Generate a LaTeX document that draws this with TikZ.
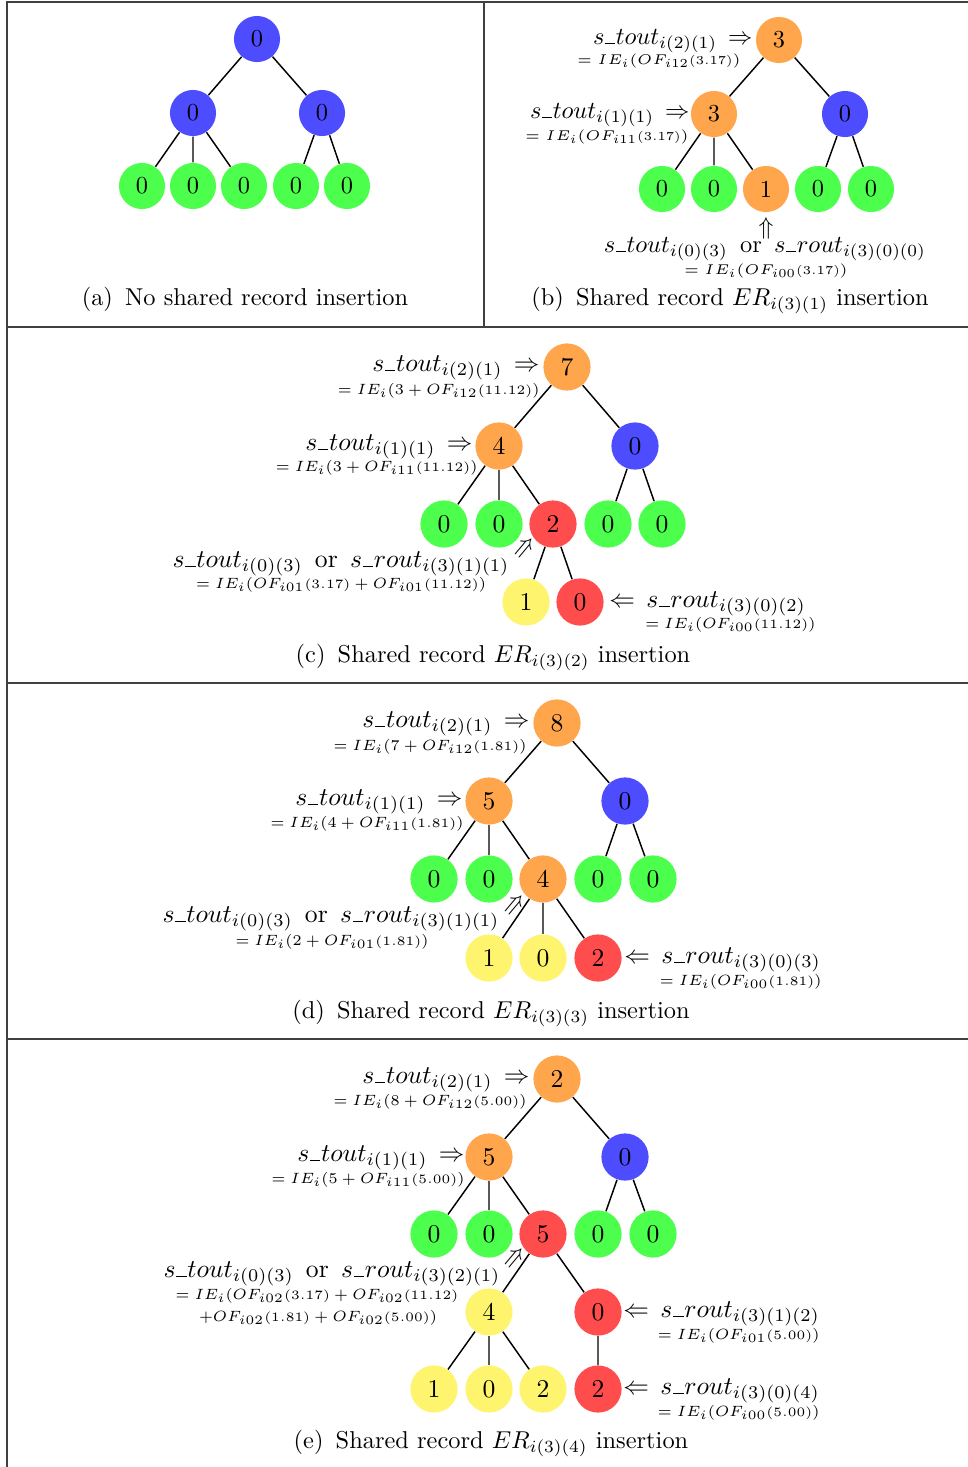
\RequirePackage{fix-cm}
\documentclass[tikz,border=0pt]{standalone}
\usetikzlibrary{calc}
\DeclareMathSizes{5.8}{5.8}{5}{5}
\DeclareMathSizes{6.1}{6.1}{5.25}{5.25}
\DeclareMathSizes{10.5}{10.5}{7.35}{5.25}
\definecolor{blueN}{RGB}{77,77,255}
\definecolor{greenN}{RGB}{77,255,77}
\definecolor{orangeN}{RGB}{255,166,77}
\definecolor{redN}{RGB}{255,77,77}
\definecolor{yellowN}{RGB}{255,244,110}
% baseline underscore used inside identifiers
\newcommand{\usc}{\kern.03em\vbox{\hrule width.4em}\kern.03em}
% reduced-size offset argument
\newcommand{\pv}[1]{{\scriptstyle(#1)}}
\newcommand{\orsep}{\hspace{5pt}or\hspace{5pt}}
\tikzset{
  x=0.41pt, y=-0.41pt,
  nd/.style={circle, minimum size=18.9pt, inner sep=0pt, font=\normalsize},
  bl/.style={nd, fill=blueN},
  gr/.style={nd, fill=greenN},
  og/.style={nd, fill=orangeN},
  rd/.style={nd, fill=redN},
  ye/.style={nd, fill=yellowN},
  edge/.style={line width=0.6pt},
  frame/.style={line width=0.5pt, black!75},
  lab/.style={inner sep=0pt, font=\normalsize},
  sm/.style={inner sep=0pt, font=\fontsize{5.8}{7}\selectfont},
  captxt/.style={inner sep=0pt, font=\normalsize, anchor=base},
  bigger/.style={
    nd/.append style={minimum size=19.35pt, font=\fontsize{10.5}{12}\selectfont},
    lab/.append style={font=\fontsize{10.5}{12}\selectfont},
    sm/.append style={font=\fontsize{6.1}{7}\selectfont}},
}
\begin{document}
\begin{tikzpicture}
\useasboundingbox (0,0) rectangle (968,1467);

% panel frames
\draw[frame] (7,1467) -- (7,2) -- (968,2);
\draw[frame] (484,2) -- (484,327);
\draw[frame] (7,327) -- (968,327);
\draw[frame] (7,683) -- (968,683);
\draw[frame] (7,1039) -- (968,1039);

% ---------------- (a) ----------------
\node[bl] (a0) at (257,39) {0};
\node[bl] (a1) at (193,113) {0};
\node[bl] (a2) at (322,113) {0};
\node[gr] (a11) at (142,186) {0};
\node[gr] (a12) at (193,186) {0};
\node[gr] (a13) at (244,186) {0};
\node[gr] (a21) at (296,186) {0};
\node[gr] (a22) at (347,186) {0};
\draw[edge] (a0)--(a1) (a0)--(a2) (a1)--(a11) (a1)--(a12) (a1)--(a13) (a2)--(a21) (a2)--(a22);
\node[captxt] (capa) at (245,305) {(a)\enspace No shared record insertion};

% ---------------- (b) ----------------
\node[og] (b0) at (779,40) {3};
\node[og] (b1) at (714,114) {3};
\node[bl] (b2) at (845,114) {0};
\node[gr] (b11) at (662,189) {0};
\node[gr] (b12) at (714,189) {0};
\node[og] (b13) at (766,189) {1};
\node[gr] (b21) at (818,189) {0};
\node[gr] (b22) at (871,189) {0};
\draw[edge] (b0)--(b1) (b0)--(b2) (b1)--(b11) (b1)--(b12) (b1)--(b13) (b2)--(b21) (b2)--(b22);
\node[lab, anchor=base east] (bl0) at (753,44) {$s\usc tout_{i(2)(1)}\,\Rightarrow$};
\node[sm, anchor=base east] (bs0) at (741,64) {$=IE_i(OF_{i12}\pv{3.17})$};
\node[lab, anchor=base east] (bl1) at (690,118) {$s\usc tout_{i(1)(1)}\,\Rightarrow$};
\node[sm, anchor=base east] (bs1) at (689,140) {$=IE_i(OF_{i11}\pv{3.17})$};
\node[lab] (bup) at (766,228) {$\Uparrow$};
\node[lab, anchor=base] (bl2) at (765,252) {$s\usc tout_{i(0)(3)}$\orsep$s\usc rout_{i(3)(0)(0)}$};
\node[sm, anchor=base] (bs2) at (766,274) {$=IE_i(OF_{i00}\pv{3.17})$};
\node[captxt] (capb) at (730,305) {(b)\enspace Shared record $ER_{i(3)(1)}$ insertion};

\begin{scope}[bigger]
% ---------------- (c) ----------------
\node[og] (c0) at (567,367) {7};
\node[og] (c1) at (499,446) {4};
\node[bl] (c2) at (635,446) {0};
\node[gr] (c11) at (444,524) {0};
\node[gr] (c12) at (499,524) {0};
\node[rd] (c13) at (553,524) {2};
\node[gr] (c21) at (608,524) {0};
\node[gr] (c22) at (662,524) {0};
\node[ye] (c131) at (526,602) {1};
\node[rd] (c132) at (580,602) {0};
\draw[edge] (c0)--(c1) (c0)--(c2) (c1)--(c11) (c1)--(c12) (c1)--(c13) (c2)--(c21) (c2)--(c22)
  (c13)--(c131) (c13)--(c132);
\node[lab, anchor=base east] (cl0) at (540,371) {$s\usc tout_{i(2)(1)}\,\Rightarrow$};
\node[sm, anchor=base east] (cs0) at (540,394) {$=IE_i(3+OF_{i12}\pv{11.12})$};
\node[lab, anchor=base east] (cl1) at (473,450) {$s\usc tout_{i(1)(1)}\,\Rightarrow$};
\node[sm, anchor=base east] (cs1) at (478,471) {$=IE_i(3+OF_{i11}\pv{11.12})$};
\node[lab, rotate=-40] (cup) at (525,548) {$\Uparrow$};
\node[lab, anchor=base] (cl2) at (341,567) {$s\usc tout_{i(0)(3)}$\orsep$s\usc rout_{i(3)(1)(1)}$};
\node[sm, anchor=base] (cs2) at (341,588) {$=IE_i(OF_{i01}\pv{3.17}+OF_{i01}\pv{11.12})$};
\node[lab, anchor=base west] (cl3) at (609,607) {$\Leftarrow\, s\usc rout_{i(3)(0)(2)}$};
\node[sm, anchor=base east] (cs3) at (816,628) {$=IE_i(OF_{i00}\pv{11.12})$};

% ---------------- (d) ----------------
\node[og] (d0) at (557,723) {8};
\node[og] (d1) at (489,801) {5};
\node[bl] (d2) at (625,801) {0};
\node[gr] (d11) at (434,879) {0};
\node[gr] (d12) at (489,879) {0};
\node[og] (d13) at (543,879) {4};
\node[gr] (d21) at (598,879) {0};
\node[gr] (d22) at (653,879) {0};
\node[ye] (d131) at (489,958) {1};
\node[ye] (d132) at (543,958) {0};
\node[rd] (d133) at (598,958) {2};
\draw[edge] (d0)--(d1) (d0)--(d2) (d1)--(d11) (d1)--(d12) (d1)--(d13) (d2)--(d21) (d2)--(d22)
  (d13)--(d131) (d13)--(d132) (d13)--(d133);
\node[lab, anchor=base east] (dl0) at (530,727) {$s\usc tout_{i(2)(1)}\,\Rightarrow$};
\node[sm, anchor=base east] (ds0) at (527,750) {$=IE_i(7+OF_{i12}\pv{1.81})$};
\node[lab, anchor=base east] (dl1) at (463,805) {$s\usc tout_{i(1)(1)}\,\Rightarrow$};
\node[sm, anchor=base east] (ds1) at (464,827) {$=IE_i(4+OF_{i11}\pv{1.81})$};
\node[lab, rotate=-40] (dup) at (515,905) {$\Uparrow$};
\node[lab, anchor=base] (dl2) at (331,922) {$s\usc tout_{i(0)(3)}$\orsep$s\usc rout_{i(3)(1)(1)}$};
\node[sm, anchor=base] (ds2) at (332,945) {$=IE_i(2+OF_{i01}\pv{1.81})$};
\node[lab, anchor=base west] (dl3) at (624,963) {$\Leftarrow\, s\usc rout_{i(3)(0)(3)}$};
\node[sm, anchor=base east] (ds3) at (822,985) {$=IE_i(OF_{i00}\pv{1.81})$};

% ---------------- (e) ----------------
\node[og] (e0) at (557,1079) {2};
\node[og] (e1) at (489,1157) {5};
\node[bl] (e2) at (625,1157) {0};
\node[gr] (e11) at (434,1234) {0};
\node[gr] (e12) at (489,1234) {0};
\node[rd] (e13) at (543,1234) {5};
\node[gr] (e21) at (598,1234) {0};
\node[gr] (e22) at (653,1234) {0};
\node[ye] (e131) at (489,1312) {4};
\node[rd] (e132) at (598,1312) {0};
\node[ye] (e1311) at (434,1389) {1};
\node[ye] (e1312) at (489,1389) {0};
\node[ye] (e1313) at (543,1389) {2};
\node[rd] (e1321) at (598,1389) {2};
\draw[edge] (e0)--(e1) (e0)--(e2) (e1)--(e11) (e1)--(e12) (e1)--(e13) (e2)--(e21) (e2)--(e22)
  (e13)--(e131) (e13)--(e132) (e131)--(e1311) (e131)--(e1312) (e131)--(e1313) (e132)--(e1321);
\node[lab, anchor=base east] (el0) at (530,1083) {$s\usc tout_{i(2)(1)}\,\Rightarrow$};
\node[sm, anchor=base east] (es0) at (527,1105) {$=IE_i(8+OF_{i12}\pv{5.00})$};
\node[lab, anchor=base east] (el1) at (465,1161) {$s\usc tout_{i(1)(1)}\,\Rightarrow$};
\node[sm, anchor=base east] (es1) at (465,1183) {$=IE_i(5+OF_{i11}\pv{5.00})$};
\node[lab, rotate=-40] (eup) at (515,1258) {$\Uparrow$};
\node[lab, anchor=base] (el2) at (332,1277) {$s\usc tout_{i(0)(3)}$\orsep$s\usc rout_{i(3)(2)(1)}$};
\node[sm, anchor=base] (es2) at (317,1299) {$=IE_i(OF_{i02}\pv{3.17}+OF_{i02}\pv{11.12}$};
\node[sm, anchor=base] (es2b) at (318,1321) {$+OF_{i02}\pv{1.81}+OF_{i02}\pv{5.00})$};
\node[lab, anchor=base west] (el3) at (623,1317) {$\Leftarrow\, s\usc rout_{i(3)(1)(2)}$};
\node[sm, anchor=base east] (es3) at (820,1339) {$=IE_i(OF_{i01}\pv{5.00})$};
\node[lab, anchor=base west] (el4) at (623,1394) {$\Leftarrow\, s\usc rout_{i(3)(0)(4)}$};
\node[sm, anchor=base east] (es4) at (820,1416) {$=IE_i(OF_{i00}\pv{5.00})$};
\end{scope}

\node[captxt] (capc) at (493,662) {(c)\enspace Shared record $ER_{i(3)(2)}$ insertion};
\node[captxt] (capd) at (491,1018) {(d)\enspace Shared record $ER_{i(3)(3)}$ insertion};
\node[captxt] (cape) at (491,1448) {(e)\enspace Shared record $ER_{i(3)(4)}$ insertion};
\end{tikzpicture}
\end{document}
